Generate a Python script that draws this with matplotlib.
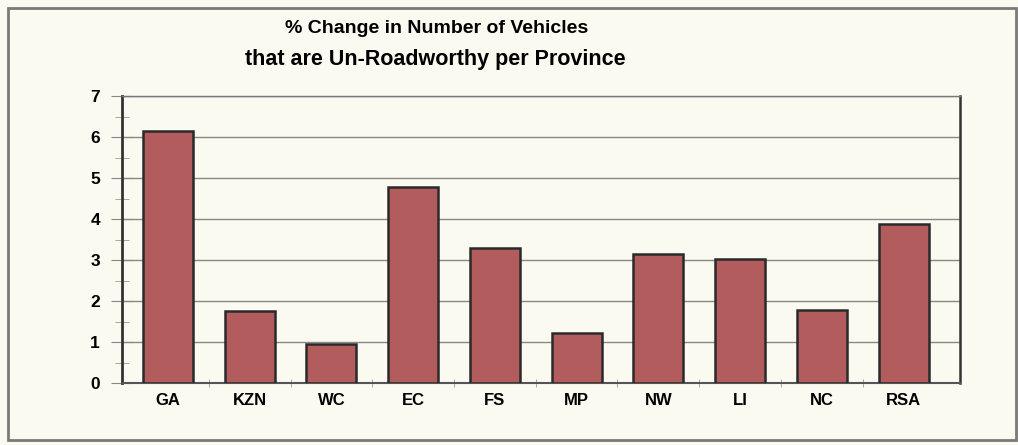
import matplotlib
matplotlib.use("Agg")
import matplotlib.pyplot as plt
from matplotlib.patches import Rectangle
import numpy as np

categories = ["GA", "KZN", "WC", "EC", "FS", "MP", "NW", "LI", "NC", "RSA"]
values = [6.15, 1.75, 0.95, 4.78, 3.3, 1.22, 3.15, 3.02, 1.78, 3.88]
yticks = [0, 1, 2, 3, 4, 5, 6, 7]
title_lines = ["% Change in Number of Vehicles", "that are Un-Roadworthy per Province"]

plt.rcParams['font.family'] = ['Liberation Sans', 'DejaVu Sans']

bg = "#fbfaf0"
fig = plt.figure(figsize=(10.18, 4.45), dpi=100, facecolor=bg)
fig.patches.append(Rectangle((0.008, 0.012), 0.99, 0.97, transform=fig.transFigure,
                             facecolor="none", edgecolor="#7a7a7a", linewidth=2.0, zorder=-5))

ax = fig.add_axes([0.120, 0.139, 0.823, 0.645])
ax.set_facecolor("none")
x = np.arange(len(categories))
ax.bar(x, values, width=0.61, color="#b25c5e", edgecolor="#2a2a2a", linewidth=1.8, zorder=3)

ax.set_xlim(-0.56, len(categories) - 0.31)
ax.set_ylim(0, 7)
ax.set_yticks(yticks)
ax.set_yticks(np.arange(0.5, 7, 1.0), minor=True)
ax.set_yticklabels([str(t) for t in yticks], fontsize=12.5, fontweight="bold")
ax.set_xticks(x)
ax.set_xticklabels(categories, fontsize=12, fontweight="bold")
ax.tick_params(axis="x", length=0, pad=7)
ax.set_xticks(np.arange(0.5, len(categories) - 0.5, 1.0), minor=True)
ax.tick_params(axis="x", which="minor", length=6, color="#999999", direction="inout")
ax.tick_params(axis="y", which="major", length=16, color="#888888", direction="inout", pad=8)
ax.tick_params(axis="y", which="minor", length=10, color="#999999", direction="inout")
ax.yaxis.grid(True, color="#888888", linewidth=1.0, zorder=1)
ax.set_axisbelow(True)

ax.spines["left"].set_color("#333333")
ax.spines["left"].set_linewidth(2.0)
ax.spines["right"].set_color("#333333")
ax.spines["right"].set_linewidth(1.8)
ax.spines["top"].set_color("#777777")
ax.spines["top"].set_linewidth(1.0)
ax.spines["bottom"].set_color("#555555")
ax.spines["bottom"].set_linewidth(1.5)

fig.text(0.429, 0.935, title_lines[0], ha="center", va="center", fontsize=14,
         fontweight="bold")
fig.text(0.428, 0.866, title_lines[1], ha="center", va="center", fontsize=15.5,
         fontweight="bold")

fig.savefig("out.png", dpi=100, facecolor=fig.get_facecolor())
